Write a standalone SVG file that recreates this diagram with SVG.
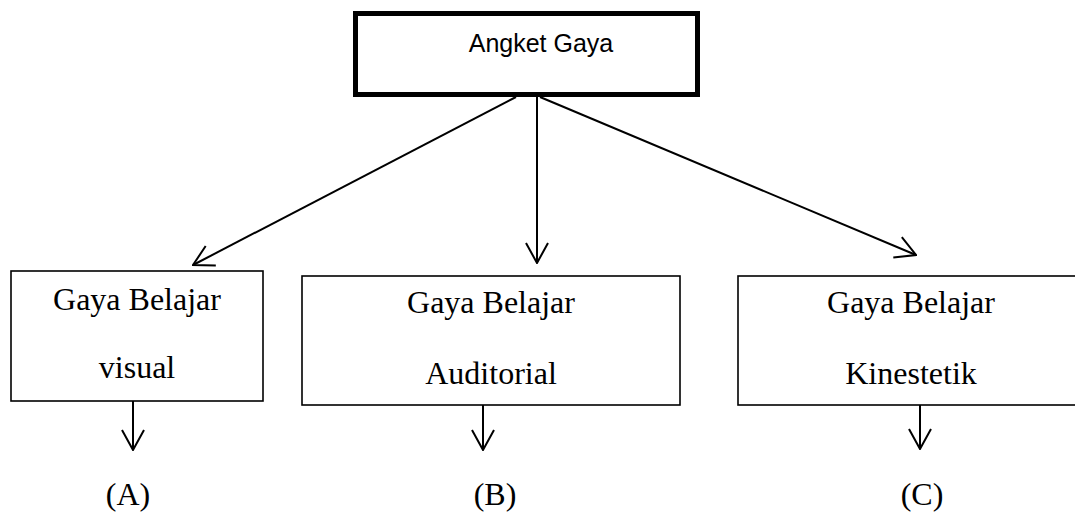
<svg xmlns="http://www.w3.org/2000/svg" width="1075" height="514" viewBox="0 0 1075 514">
<style>
.box{fill:#fff;stroke:#000;stroke-width:1.6}
.top{fill:#fff;stroke:#000;stroke-width:5}
.serif{font-family:"Liberation Serif","Times New Roman",serif;font-size:32px;fill:#000;text-anchor:middle}
.sans{font-family:"Liberation Sans",Arial,sans-serif;font-size:25px;fill:#000;text-anchor:middle}
.conn{stroke:#000;stroke-width:2;fill:none}
</style>
<defs>
<marker id="arr" viewBox="0 0 22 24" refX="21" refY="12" markerWidth="22" markerHeight="24" markerUnits="userSpaceOnUse" orient="auto">
<path d="M1,1 L21,12 L1,23" fill="none" stroke="#000" stroke-width="2"/>
</marker>
</defs>
<g id="node-top">
<rect class="top" x="355.5" y="13.5" width="342" height="81"/>
<text class="sans" x="541" y="52">Angket Gaya</text>
</g>
<g id="node-visual">
<rect class="box" x="11" y="271" width="252" height="130"/>
<text class="serif" x="137" y="310">Gaya Belajar</text>
<text class="serif" x="137" y="378">visual</text>
</g>
<g id="node-auditorial">
<rect class="box" x="302" y="276" width="378" height="129"/>
<text class="serif" x="491" y="313">Gaya Belajar</text>
<text class="serif" x="491" y="384">Auditorial</text>
</g>
<g id="node-kinestetik">
<rect class="box" x="738" y="276" width="346" height="129"/>
<text class="serif" x="911" y="313">Gaya Belajar</text>
<text class="serif" x="911" y="384">Kinestetik</text>
</g>
<g id="label-a"><text class="serif" x="128" y="505">(A)</text></g>
<g id="label-b"><text class="serif" x="495" y="505">(B)</text></g>
<g id="label-c"><text class="serif" x="922" y="505">(C)</text></g>
<g id="connectors">
<line class="conn" x1="516" y1="97" x2="193" y2="265" marker-end="url(#arr)"/>
<line class="conn" x1="537" y1="97" x2="537" y2="263" marker-end="url(#arr)"/>
<line class="conn" x1="540" y1="97" x2="916" y2="255" marker-end="url(#arr)"/>
<line class="conn" x1="133" y1="401" x2="133" y2="450" marker-end="url(#arr)"/>
<line class="conn" x1="483" y1="405" x2="483" y2="450" marker-end="url(#arr)"/>
<line class="conn" x1="920" y1="405" x2="920" y2="449" marker-end="url(#arr)"/>
</g>
</svg>
